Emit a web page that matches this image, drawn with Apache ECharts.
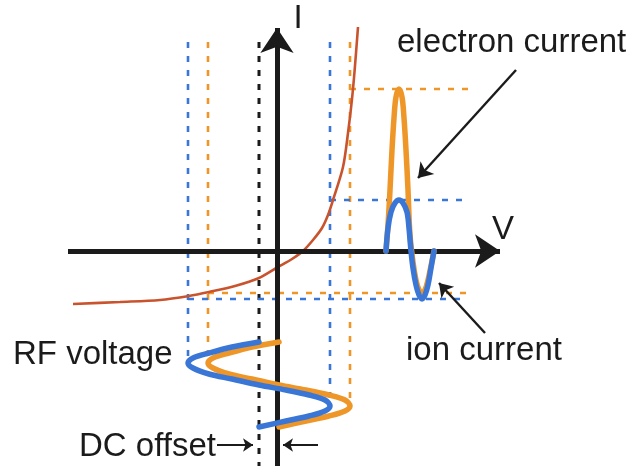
<!DOCTYPE html>
<html><head><meta charset="utf-8">
<script src="https://cdn.jsdelivr.net/npm/echarts@6/dist/echarts.min.js"></script>
<style>html,body{margin:0;padding:0;background:#fff}#c{width:635px;height:466px}</style>
</head><body><div id="c"></div>
<script>
// Diagram units: V (horizontal) and I (vertical), origin at the axes crossing.
// I–V characteristic (red curve)
const ivV = [-204, -157, -117, -88, -68, -42, -18, 1, 15, 26, 36, 45, 51, 56, 66, 71, 76, 81];
const ivI = [-53, -51, -49, -45, -41, -35, -27, -16, -8, 0, 11, 23, 36, 51, 84, 118, 162, 224];

// RF voltage traces (time runs downward, plotted on the I axis)
const rfTime    = [-91, -96, -102, -107, -112, -117, -123, -128, -134, -139, -144, -149, -155, -160, -165, -170, -176];
const rfBlueV   = [-18, -45, -68, -84, -89, -84, -68, -45, -18, 9, 32, 48, 53, 48, 32, 9, -18];
const rfOrangeV = [2, -25, -48, -64, -69, -64, -48, -25, 2, 29, 52, 68, 73, 68, 52, 29, 2];

// Current traces (time runs to the right)
const curBlueT   = [109, 111, 114, 118, 122, 126, 130, 132, 134, 136, 139, 142, 145, 148, 151, 154, 157];
const curBlueI   = [0, 23, 39, 48, 51, 48, 39, 23, 0, -17, -34, -44, -48, -44, -34, -17, 0];
const curOrangeT = [109, 111, 113, 115, 117, 119, 122, 125, 127, 129, 131, 133, 136, 139, 142, 145, 148, 151, 154, 157];
const curOrangeI = [0, 26, 61, 101, 133, 154, 162, 154, 133, 101, 61, 16, -11, -29, -39, -42, -39, -29, -15, 0];

// Guide levels
const blueVRange   = [-89, 53];
const orangeVRange = [-69, 73];
const dcOffsetV    = -18;
const blueIRange   = [-48, 51];
const orangeIRange = [-42, 162];
const guideTopI    = 209;
const guideRightV  = 192;
const bottomI      = -215;

// Axes and pointer arrows: [fromV, fromI, tipV, tipI]
const axisVArrow = [-209, 0, 223, 0];
const axisIArrow = [0, -215, 0, 223];
const elecPointer = [239, 181, 141, 73];
const ionPointer  = [208, -82, 162, -32];
const dcRight = [-60, -194, -24, -194];
const dcLeft  = [41, -194, 6, -194];

const BLUE = '#3a76d6', ORANGE = '#ee9628', RED = '#c9532d', INK = '#1b1b1b';
const zip = (a, b) => a.map((v, i) => [v, b[i]]);
const idxMin = a => a.indexOf(Math.min(...a));
const idxMax = a => a.indexOf(Math.max(...a));

function guide(points, color, width, z) {
  return { type: 'line', data: points, showSymbol: false, symbol: 'none', silent: true, z: z || 2,
    lineStyle: { color: color, width: width || 2.6, type: [6, 8] } };
}
function arrow(seg, width, size, color) {
  return { type: 'lines', coordinateSystem: 'cartesian2d', silent: true, z: 6,
    symbol: ['none', 'arrow'], symbolSize: size,
    lineStyle: { color: color || INK, width: width, opacity: 1, curveness: 0 },
    data: [{ coords: [[seg[0], seg[1]], [seg[2], seg[3]]] }] };
}
function trace(points, color, width, z) {
  return { type: 'line', data: points, smooth: 0.35, showSymbol: false, symbol: 'none', silent: true, z: z,
    lineStyle: { color: color, width: width, cap: 'round', join: 'round' } };
}

const series = [
  // vertical guides
  guide([[blueVRange[0], guideTopI], [blueVRange[0], rfTime[idxMin(rfBlueV)]]], BLUE),
  guide([[orangeVRange[0], guideTopI], [orangeVRange[0], rfTime[idxMin(rfOrangeV)]]], ORANGE),
  guide([[blueVRange[1], guideTopI], [blueVRange[1], rfTime[idxMax(rfBlueV)]]], BLUE),
  guide([[orangeVRange[1], guideTopI], [orangeVRange[1], rfTime[idxMax(rfOrangeV)]]], ORANGE),
  guide([[dcOffsetV, guideTopI], [dcOffsetV, bottomI]], INK, 3),
  // horizontal guides
  guide([[orangeVRange[1], orangeIRange[1]], [guideRightV + 3, orangeIRange[1]]], ORANGE),
  guide([[blueVRange[1], blueIRange[1]], [guideRightV - 2, blueIRange[1]]], BLUE),
  guide([[orangeVRange[0], orangeIRange[0]], [guideRightV, orangeIRange[0]]], ORANGE),
  guide([[blueVRange[0], blueIRange[0]], [guideRightV - 2, blueIRange[0]]], BLUE),
  // I-V curve
  { type: 'line', data: zip(ivV, ivI), smooth: 0.3, showSymbol: false, symbol: 'none', silent: true, z: 4,
    lineStyle: { color: RED, width: 2.6 } },
  // axes
  arrow(axisVArrow, 5, [19, 25]),
  arrow(axisIArrow, 5, [20, 25]),
  // RF voltage
  trace(zip(rfOrangeV, rfTime), ORANGE, 5.5, 7),
  trace(zip(rfBlueV, rfTime), BLUE, 5.5, 8),
  // currents
  trace(zip(curOrangeT, curOrangeI), ORANGE, 5.5, 7),
  trace(zip(curBlueT, curBlueI), BLUE, 5.5, 8),
  // pointers
  arrow(elecPointer, 2.4, [10, 14]),
  arrow(ionPointer, 2.4, [10, 13]),
  arrow(dcRight, 1.8, [8, 10]),
  arrow(dcLeft, 1.8, [8, 10])
];

const FONT = '33px "Liberation Sans", Arial, sans-serif';
function label(text, x, y, align) {
  return { type: 'text', x: x, y: y, z: 10, silent: true,
    style: { text: text, font: FONT, fill: INK, textAlign: align || 'left', textVerticalAlign: 'middle', verticalAlign: 'middle' } };
}

const chart = echarts.init(document.getElementById('c'), null, { renderer: 'canvas' });
chart.setOption({
  animation: false,
  backgroundColor: '#ffffff',
  grid: { left: 0, right: 0, top: 0, bottom: 0 },
  xAxis: { type: 'value', min: -277, max: 358, show: false },
  yAxis: { type: 'value', min: -215, max: 251, show: false },
  series: series,
  graphic: [
    label('I', 298, 19, 'center'),
    label('V', 503, 230, 'center'),
    label('electron current', 397, 43),
    label('ion current', 406, 351),
    label('RF voltage', 13, 355),
    label('DC offset', 79, 447)
  ]
});
</script>
</body></html>
